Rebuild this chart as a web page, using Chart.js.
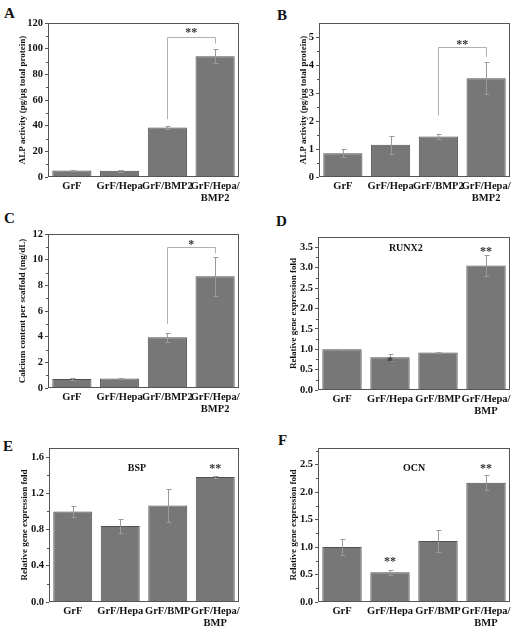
<!DOCTYPE html>
<html>
<head>
<meta charset="utf-8">
<script src="https://cdn.jsdelivr.net/npm/chart.js@4.4.0/dist/chart.umd.min.js"></script>
<style>
body { margin: 0; background: #fff; }
#fig { position: relative; width: 522px; height: 632px; overflow: hidden; }
#fig canvas { position: absolute; }
.letter { position: absolute; font: bold 15px "Liberation Serif", serif; color: #111; line-height: 1; }
</style>
</head>
<body>
<div id="fig">
  <div class="letter" style="left:4px;top:6px">A</div>
  <div class="letter" style="left:277px;top:8px">B</div>
  <div class="letter" style="left:4px;top:211px">C</div>
  <div class="letter" style="left:276px;top:214px">D</div>
  <div class="letter" style="left:3px;top:439px">E</div>
  <div class="letter" style="left:278px;top:433px">F</div>
  <canvas id="cA" width="261" height="210" style="left:0;top:0"></canvas>
  <canvas id="cB" width="261" height="210" style="left:261px;top:0"></canvas>
  <canvas id="cC" width="261" height="215" style="left:0;top:205px"></canvas>
  <canvas id="cD" width="261" height="215" style="left:261px;top:205px"></canvas>
  <canvas id="cE" width="261" height="217" style="left:0;top:415px"></canvas>
  <canvas id="cF" width="261" height="217" style="left:261px;top:415px"></canvas>
</div>
<script>
// --- data ---
const groupsBmp2 = ['GrF', 'GrF/Hepa', 'GrF/BMP2', ['GrF/Hepa/', 'BMP2']];
const groupsBmp = ['GrF', 'GrF/Hepa', 'GrF/BMP', ['GrF/Hepa/', 'BMP']];

const alpA = [5.0, 4.8, 38.5, 94.0];
const alpAErr = [0.5, 0.6, 1.0, 5.5];
const alpB = [0.85, 1.15, 1.45, 3.53];
const alpBErr = [0.15, 0.33, 0.08, 0.56];
const calcium = [0.70, 0.75, 3.95, 8.70];
const calciumErr = [0.05, 0.05, 0.37, 1.5];
const runx2 = [1.00, 0.80, 0.92, 3.05];
const runx2Err = [0.01, 0.08, 0.01, 0.25];
const bsp = [1.00, 0.84, 1.065, 1.38];
const bspErr = [0.06, 0.08, 0.18, 0.015];
const ocn = [1.00, 0.54, 1.11, 2.17];
const ocnErr = [0.15, 0.05, 0.20, 0.14];

const FONT = '"Liberation Serif", "Times New Roman", serif';

// error bars, frame, minor ticks, significance marks
const extras = {
    id: 'extras',
    afterDatasetsDraw(chart, args, opts) {
        const { ctx, chartArea: a, scales: { x, y } } = chart;
        const vals = chart.data.datasets[0].data;
        ctx.save();

        ctx.strokeStyle = '#9a9a9a';
        ctx.lineWidth = 1;
        chart.getDatasetMeta(0).data.forEach((bar, i) => {
            const e = opts.errors[i];
            const bx = Math.round(bar.x) + 0.5;
            const yt = Math.round(y.getPixelForValue(vals[i] + e)) + 0.5;
            const yb = Math.round(y.getPixelForValue(vals[i] - e)) + 0.5;
            ctx.beginPath();
            ctx.moveTo(bx, yt); ctx.lineTo(bx, yb);
            ctx.moveTo(bx - 2, yt); ctx.lineTo(bx + 3, yt);
            ctx.moveTo(bx - 2, yb); ctx.lineTo(bx + 3, yb);
            ctx.stroke();
        });

        // frame
        ctx.strokeStyle = '#555';
        ctx.strokeRect(Math.round(a.left) + 0.5, Math.round(a.top) + 0.5,
            Math.round(a.width) - 1, Math.round(a.height) - 1);

        // minor ticks
        ctx.beginPath();
        for (let v = opts.minor; v < y.max; v += 2 * opts.minor) {
            const py = Math.round(y.getPixelForValue(v)) + 0.5;
            ctx.moveTo(a.left - 2, py); ctx.lineTo(a.left, py);
        }
        ctx.stroke();

        // bracket
        if (opts.bracket) {
            const b = opts.bracket;
            const x1 = Math.round(x.getPixelForValue(b.from)) + 0.5;
            const x2 = Math.round(x.getPixelForValue(b.to)) + 0.5;
            const yTop = Math.round(y.getPixelForValue(b.top)) + 0.5;
            ctx.strokeStyle = '#b0b0b0';
            ctx.beginPath();
            ctx.moveTo(x1, y.getPixelForValue(b.left));
            ctx.lineTo(x1, yTop);
            ctx.lineTo(x2, yTop);
            ctx.lineTo(x2, y.getPixelForValue(b.right));
            ctx.stroke();
        }

        ctx.fillStyle = '#333';
        ctx.textAlign = 'center';
        ctx.textBaseline = 'middle';
        ctx.font = 'bold 12px ' + FONT;
        (opts.stars || []).forEach(s => {
            ctx.fillText(s.text, x.getPixelForValue(s.at), y.getPixelForValue(s.value) + 3);
        });
        if (opts.gene) {
            ctx.fillStyle = '#111';
            ctx.font = 'bold 10px ' + FONT;
            ctx.fillText(opts.gene.text, x.getPixelForValue(opts.gene.at), y.getPixelForValue(opts.gene.value));
        }
        ctx.restore();
    }
};

function makePanel(id, cfg) {
    new Chart(document.getElementById(id), {
        type: 'bar',
        data: {
            labels: cfg.labels,
            datasets: [{
                data: cfg.values,
                backgroundColor: '#777',
                borderColor: '#505050',
                borderWidth: 1,
                barPercentage: 0.82,
                categoryPercentage: 1
            }]
        },
        options: {
            responsive: false,
            animation: false,
            layout: { padding: { left: cfg.padLeft, top: cfg.padTop, right: cfg.padRight, bottom: 0 } },
            plugins: {
                legend: { display: false },
                tooltip: { enabled: false },
                extras: cfg.extras
            },
            scales: {
                x: {
                    grid: { display: false, drawTicks: false },
                    border: { display: false },
                    ticks: {
                        color: '#111',
                        font: { family: FONT, weight: 'bold', size: 10.5, lineHeight: 1.15 },
                        maxRotation: 0, minRotation: 0, autoSkip: false, padding: 3
                    },
                    afterFit(s) { s.height = cfg.xHeight; }
                },
                y: {
                    min: 0,
                    max: cfg.max,
                    grid: { display: true, drawOnChartArea: false, drawTicks: true, tickLength: 3, color: '#555' },
                    border: { display: false },
                    ticks: {
                        stepSize: cfg.step,
                        includeBounds: false,
                        color: '#111',
                        padding: 2,
                        font: { family: FONT, weight: 'bold', size: 10.5 },
                        callback: v => cfg.decimals ? Number(v).toFixed(cfg.decimals) : v
                    },
                    title: {
                        display: true,
                        text: cfg.title,
                        color: '#111',
                        padding: 0,
                        font: { family: FONT, weight: 'bold', size: 9 }
                    },
                    afterFit(s) { s.width = cfg.yWidth; }
                }
            }
        },
        plugins: [extras]
    });
}

makePanel('cA', {
    labels: groupsBmp2, values: alpA, max: 120, step: 20, decimals: 0,
    title: 'ALP activity (pg/μg total protein)',
    padLeft: 17, yWidth: 31, padTop: 23, padRight: 22, xHeight: 33,
    extras: {
        errors: alpAErr, minor: 10,
        bracket: { from: 2, to: 3, left: 45, top: 109, right: 104 },
        stars: [{ text: '**', at: 2.5, value: 115 }]
    }
});

makePanel('cB', {
    labels: groupsBmp2, values: alpB, max: 5.5, step: 1, decimals: 0,
    title: 'ALP activity (pg/μg total protein)',
    padLeft: 37, yWidth: 21, padTop: 23, padRight: 12, xHeight: 33,
    extras: {
        errors: alpBErr, minor: 0.5,
        bracket: { from: 2, to: 3, left: 2.2, top: 4.64, right: 4.29 },
        stars: [{ text: '**', at: 2.5, value: 4.82 }]
    }
});

makePanel('cC', {
    labels: groupsBmp2, values: calcium, max: 12, step: 2, decimals: 0,
    title: 'Calcium content per scaffold (mg/dL)',
    padLeft: 17, yWidth: 31, padTop: 29, padRight: 22, xHeight: 32,
    extras: {
        errors: calciumErr, minor: 1,
        bracket: { from: 2, to: 3, left: 5.0, top: 10.96, right: 10.5 },
        stars: [{ text: '*', at: 2.5, value: 11.42 }]
    }
});

makePanel('cD', {
    labels: groupsBmp, values: runx2, max: 3.75, step: 0.5, decimals: 1,
    title: 'Relative gene expression fold',
    padLeft: 27, yWidth: 30, padTop: 32, padRight: 12, xHeight: 30,
    extras: {
        errors: runx2Err, minor: 0.25,
        stars: [{ text: '*', at: 1, value: 0.77 }, { text: '**', at: 3, value: 3.47 }],
        gene: { text: 'RUNX2', at: 1.33, value: 3.48 }
    }
});

makePanel('cE', {
    labels: groupsBmp, values: bsp, max: 1.7, step: 0.4, decimals: 1,
    title: 'Relative gene expression fold',
    padLeft: 19, yWidth: 30, padTop: 33, padRight: 22, xHeight: 30,
    extras: {
        errors: bspErr, minor: 0.2,
        stars: [{ text: '**', at: 3, value: 1.497 }],
        gene: { text: 'BSP', at: 1.35, value: 1.48 }
    }
});

makePanel('cF', {
    labels: groupsBmp, values: ocn, max: 2.8, step: 0.5, decimals: 1,
    title: 'Relative gene expression fold',
    padLeft: 27, yWidth: 30, padTop: 33, padRight: 12, xHeight: 30,
    extras: {
        errors: ocnErr, minor: 0.25,
        stars: [{ text: '**', at: 1, value: 0.787 }, { text: '**', at: 3, value: 2.48 }],
        gene: { text: 'OCN', at: 1.5, value: 2.42 }
    }
});
</script>
</body>
</html>
